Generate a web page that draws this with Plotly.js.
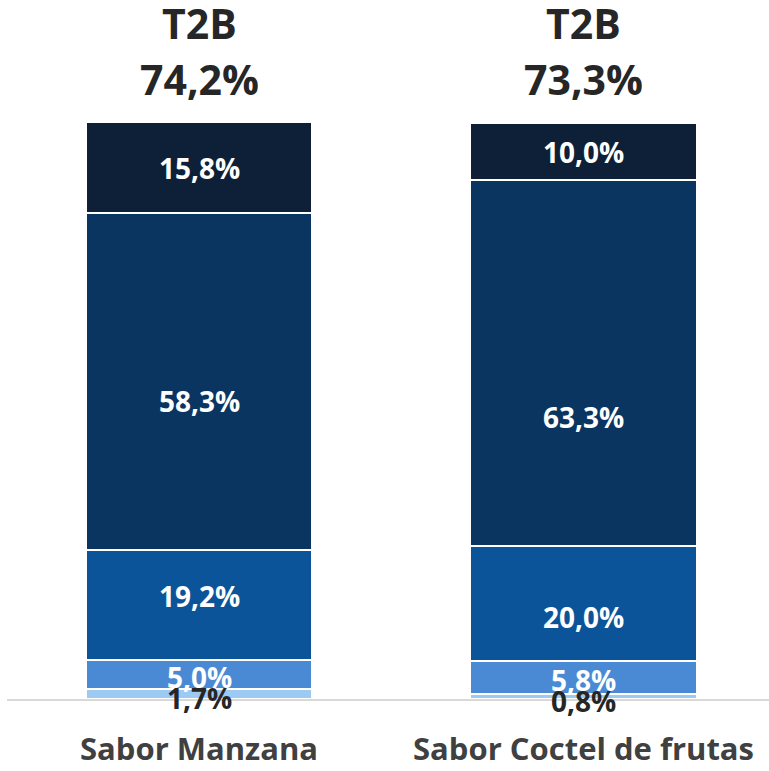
<!DOCTYPE html>
<html>
<head>
<meta charset="utf-8">
<script src="https://cdn.plot.ly/plotly-3.0.1.min.js"></script>
<style>html,body{margin:0;padding:0;background:#fff;}#chart{width:769px;height:771px;}</style>
</head>
<body>
<div id="chart"></div>
<script>
const categories = ['Sabor Manzana', 'Sabor Coctel de frutas'];
const levels = ['Nivel 1', 'Nivel 2', 'Nivel 3', 'Nivel 4', 'Nivel 5'];
const nivel1 = [1.7, 0.8];
const nivel2 = [5.0, 5.8];
const nivel3 = [19.2, 20.0];
const nivel4 = [58.3, 63.3];
const nivel5 = [15.8, 10.0];
const t2b = [74.2, 73.3];
const seriesValues = [nivel1, nivel2, nivel3, nivel4, nivel5];

// styling only: colours and pixel nudges of the data labels (as placed in the original)
const colors = ['#9ccaf3', '#4a8ad5', '#0b5499', '#0a3560', '#0e2038'];
const labelColors = ['#262626', '#ffffff', '#ffffff', '#ffffff', '#ffffff'];
const labelNudge = [[-4, -2, 9, -20, 0], [-4, -2, -14, -54, -1]];
const FONT = 'Open Sans, DejaVu Sans, sans-serif';
const fmt = v => v.toFixed(1).replace('.', ',') + '%';

const traces = seriesValues.map((vals, i) => ({
  type: 'bar', x: categories, y: vals, name: levels[i],
  marker: {color: colors[i], line: {color: '#ffffff', width: 2}},
  width: 0.588, hoverinfo: 'skip'
}));

const annotations = [];
categories.forEach((c, ci) => {
  let cum = 0;
  seriesValues.forEach((vals, si) => {
    const v = vals[ci];
    annotations.push({
      x: c, y: cum + v / 2, xref: 'x', yref: 'y', text: fmt(v), showarrow: false,
      yshift: labelNudge[ci][si],
      font: {family: FONT, size: 28, color: labelColors[si], weight: 700}
    });
    cum += v;
  });
  annotations.push({x: c, y: 1.172, xref: 'x', yref: 'paper', text: 'T2B', showarrow: false,
    yanchor: 'middle', font: {family: FONT, size: 41, color: '#262626', weight: 700}});
  annotations.push({x: c, y: 1.0745, xref: 'x', yref: 'paper', text: fmt(t2b[ci]), showarrow: false,
    yanchor: 'middle', font: {family: FONT, size: 41, color: '#262626', weight: 700}});
});

const layout = {
  width: 769, height: 771, barmode: 'stack', showlegend: false,
  margin: {l: 0, r: 0, t: 122, b: 72, pad: 0},
  paper_bgcolor: '#ffffff', plot_bgcolor: '#ffffff',
  xaxis: {type: 'category', domain: [0.0091, 1], range: [-0.4994, 1.4824],
    showline: true, linecolor: '#d9d9d9', linewidth: 1.5,
    ticks: '', showgrid: false, zeroline: false, ticklabelstandoff: 22,
    tickfont: {family: FONT, size: 31, color: '#404040', weight: 700}},
  yaxis: {range: [0, 100], visible: false, showgrid: false, zeroline: false},
  annotations: annotations
};
Plotly.newPlot('chart', traces, layout, {displayModeBar: false, staticPlot: true});
</script>
</body>
</html>
